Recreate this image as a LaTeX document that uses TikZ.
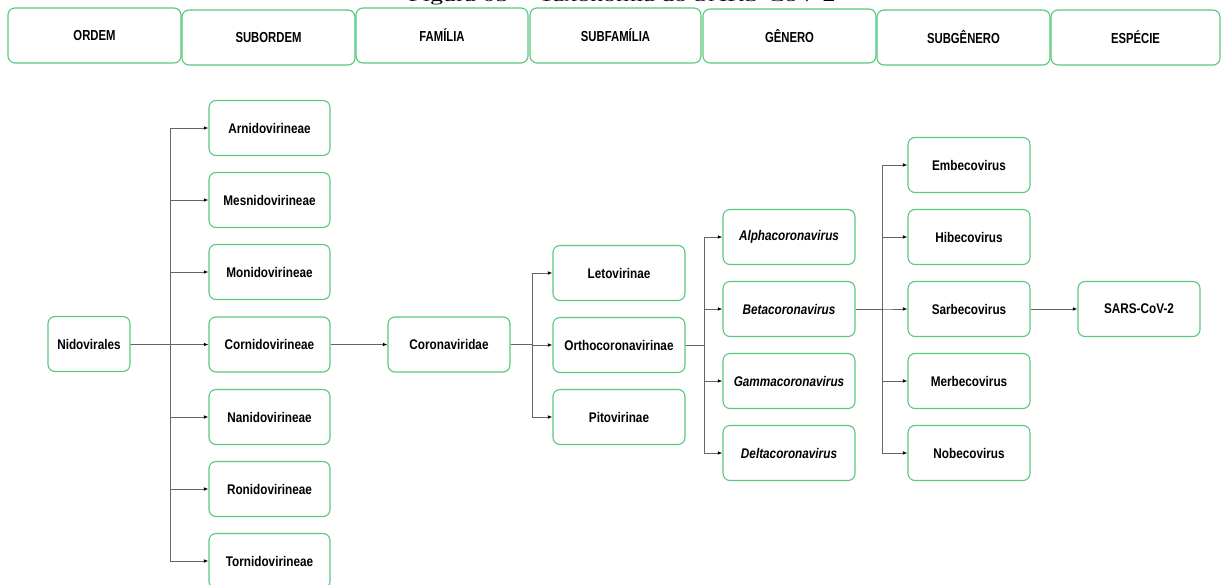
\documentclass[tikz,border=0pt]{standalone}
\usepackage{fontspec}
\setmainfont{Liberation Sans}[FakeStretch=0.84]
\newfontfamily\headfont{Liberation Sans}[FakeStretch=0.78]
\newfontfamily\capfont{Liberation Serif}
\usetikzlibrary{arrows.meta}
\definecolor{boxgreen}{RGB}{88,200,125}
\definecolor{linegray}{RGB}{100,100,100}
\tikzset{
  box/.style={draw=boxgreen, line width=1.1pt, rounded corners=7pt, fill=white,
    minimum width=121pt, minimum height=55pt, inner sep=0pt, align=center,
    font=\fontsize{14}{16}\selectfont\bfseries},
  headbox/.style={box, minimum width=172pt, minimum height=55pt,
    font=\headfont\fontsize{14.5}{16}\selectfont\bfseries},
  link/.style={draw=linegray, line width=0.8pt, -{Latex[length=4.5pt,width=3.5pt,color=black]}},
  plain/.style={draw=linegray, line width=0.8pt}
}
\begin{document}
\begin{tikzpicture}[x=1pt,y=-1pt]
\useasboundingbox (0,0) rectangle (1222,585);
% caption (cut off at top, as in the reference)
\node[anchor=base, inner sep=0pt, font=\capfont\fontsize{16}{18}\selectfont] (cap) at (622,1.5)
  {\scalebox{1.62}[1]{Figura 05 -- Taxonomia do SARS-CoV-2}};
% header row
\node[headbox, minimum width=173pt] (h1) at (94.5,35.5) {ORDEM};
\node[headbox, minimum width=173pt] (h2) at (268.5,37.5) {SUBORDEM};
\node[headbox] (h3) at (442,35.5) {FAMÍLIA};
\node[headbox, minimum width=171pt] (h4) at (615.5,35.5) {SUBFAMÍLIA};
\node[headbox, minimum width=173pt, minimum height=54pt] (h5) at (789.5,36) {GÊNERO};
\node[headbox, minimum width=173pt] (h6) at (963.5,37.5) {SUBGÊNERO};
\node[headbox, minimum width=169pt] (h7) at (1135.5,37.5) {ESPÉCIE};
% order
\node[box, minimum width=82pt] (nido) at (89,344) {Nidovirales};
% suborders
\node[box] (arn) at (269.5,128) {Arnidovirineae};
\node[box] (mes) at (269.5,200) {Mesnidovirineae};
\node[box] (mon) at (269.5,272) {Monidovirineae};
\node[box] (cor) at (269.5,344.5) {Cornidovirineae};
\node[box] (nan) at (269.5,417) {Nanidovirineae};
\node[box] (ron) at (269.5,489) {Ronidovirineae};
\node[box] (tor) at (269.5,561) {Tornidovirineae};
% family
\node[box, minimum width=122pt] (fam) at (449,344.5) {Coronaviridae};
% subfamilies
\node[box, minimum width=132pt] (let) at (619,273) {Letovirinae};
\node[box, minimum width=132pt] (ort) at (619,345) {Orthocoronavirinae};
\node[box, minimum width=132pt] (pit) at (619,417) {Pitovirinae};
% genera
\node[box, minimum width=132pt] (alp) at (789,237) {\itshape Alphacoronavirus};
\node[box, minimum width=132pt] (bet) at (789,309) {\itshape Betacoronavirus};
\node[box, minimum width=132pt] (gam) at (789,381) {\itshape Gammacoronavirus};
\node[box, minimum width=132pt] (del) at (789,453) {\itshape Deltacoronavirus};
% subgenera
\node[box, minimum width=122pt] (emb) at (969,165) {Embecovirus};
\node[box, minimum width=122pt] (hib) at (969,237) {Hibecovirus};
\node[box, minimum width=122pt] (sar) at (969,309) {Sarbecovirus};
\node[box, minimum width=122pt] (mer) at (969,381) {Merbecovirus};
\node[box, minimum width=122pt] (nob) at (969,453) {Nobecovirus};
% species
\node[box, minimum width=122pt] (sc2) at (1139,309) {SARS-CoV-2};
% connectors
\foreach \c in {arn,mes,mon,cor,nan,ron,tor}
  \draw[link] (nido.east) -- ([xshift=40pt]nido.east) |- (\c.west);
\draw[link] (cor.east) -- (fam.west);
\foreach \c in {let,ort,pit}
  \draw[link] (fam.east) -- ([xshift=22pt]fam.east) |- (\c.west);
\foreach \c in {alp,bet,gam,del}
  \draw[link] (ort.east) -- ([xshift=19pt]ort.east) |- (\c.west);
\foreach \c in {emb,hib,sar,mer,nob}
  \draw[link] (bet.east) -- ([xshift=27pt]bet.east) |- (\c.west);
\draw[link] (sar.east) -- (sc2.west);
\end{tikzpicture}
\end{document}
